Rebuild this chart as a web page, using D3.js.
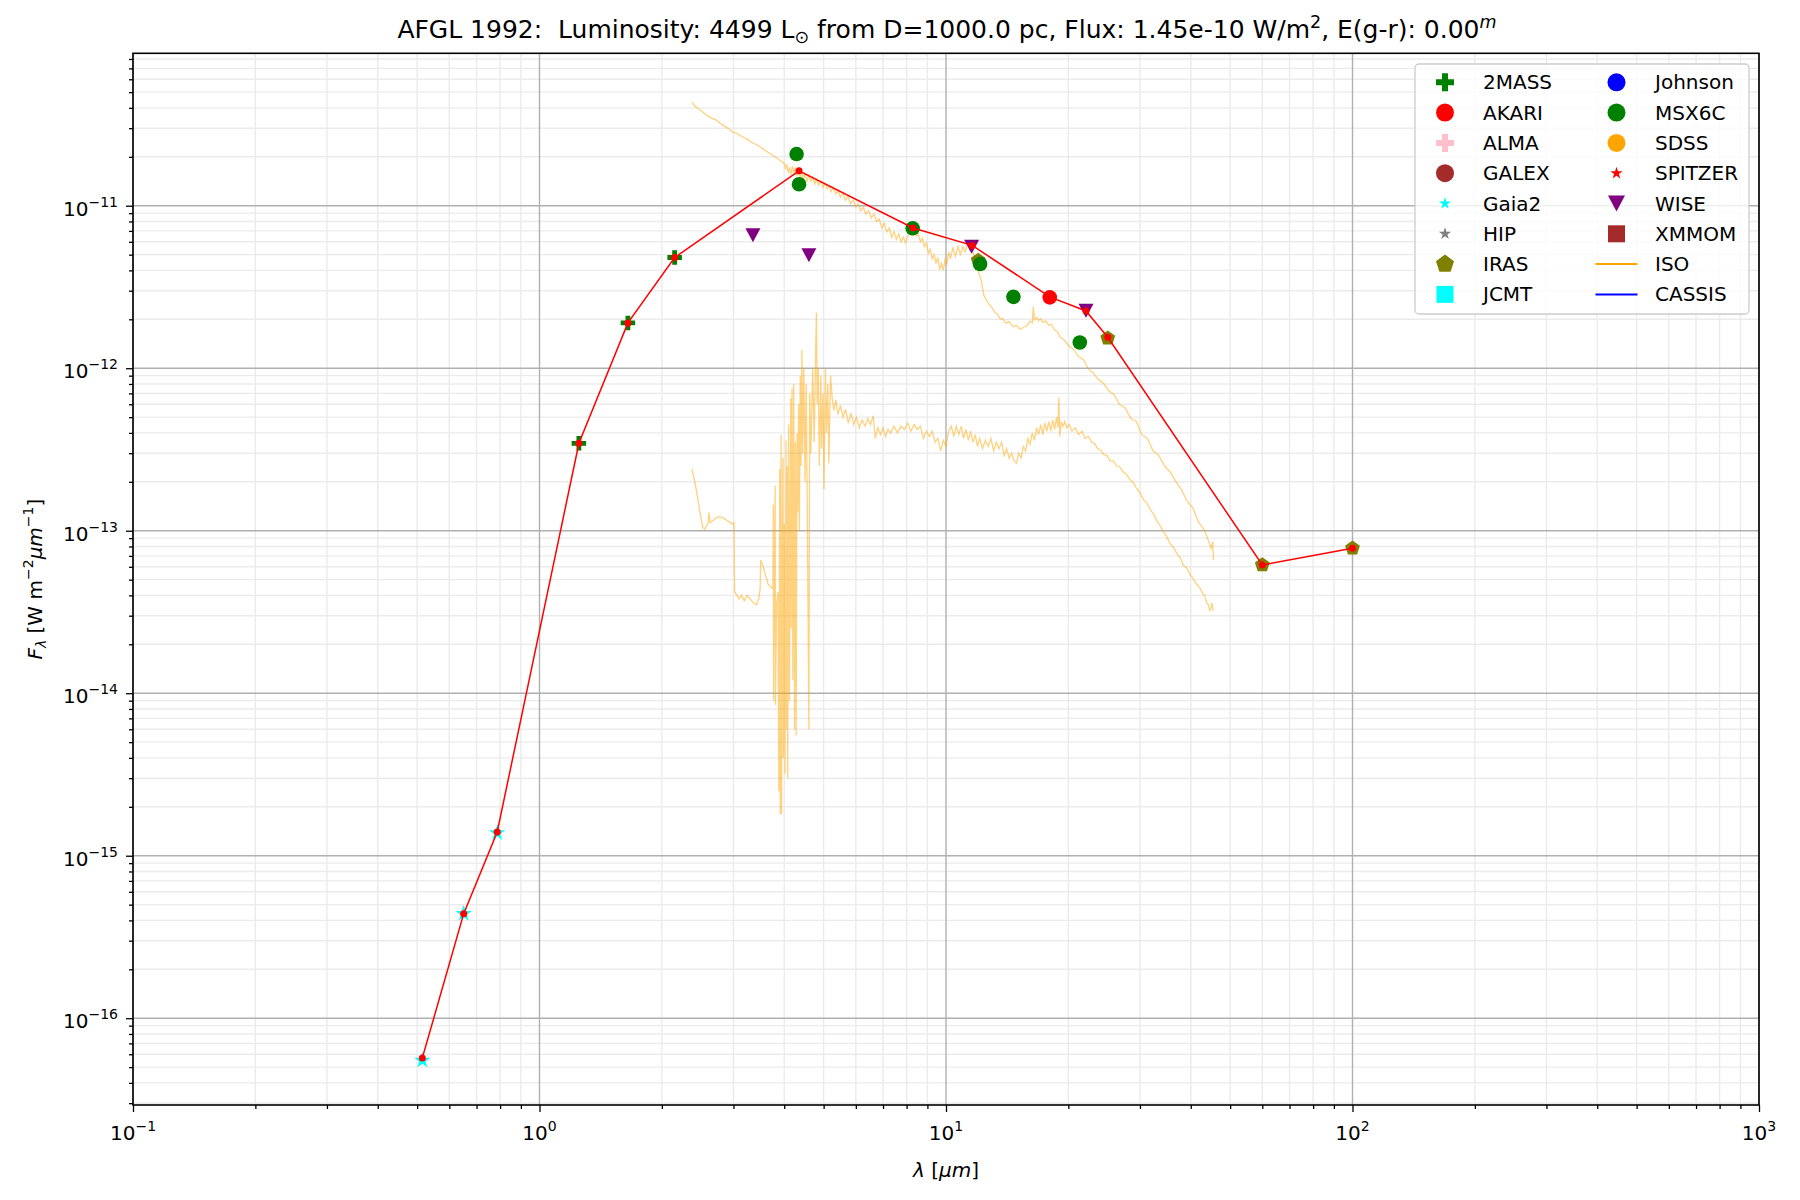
<!DOCTYPE html>
<html>
<head>
<meta charset="utf-8">
<script src="https://cdn.jsdelivr.net/npm/d3@7"></script>
<style>
  body { margin: 0; background: #fff; }
  text { font-family: "DejaVu Sans", sans-serif; fill: #000; }
</style>
</head>
<body>
<div class="chart"></div>
<script>
const width = 1800;
const height = 1200;
const margin = { top: 53.3, right: 41, bottom: 95, left: 133 };

// axis ticks
const xMajor = [0.1, 1, 10, 100, 1000];
const yMajor = [1e-16, 1e-15, 1e-14, 1e-13, 1e-12, 1e-11];
const yDomain = [Math.pow(10, -16.534), Math.pow(10, -10.062)];

// photometry (wavelength in micron, flux in W m-2 um-1)
const twomassWl = [1.25, 1.65, 2.15];
const twomassFlux = [3.45e-13, 1.9e-12, 4.8e-12];
const gaiaWl = [0.515, 0.651, 0.787];
const gaiaFlux = [5.5e-17, 4.4e-16, 1.38e-15];
const msxWl = [4.29, 4.35, 8.28, 12.13, 14.65, 21.34];
const msxFlux = [2.08e-11, 1.355e-11, 7.26e-12, 4.38e-12, 2.75e-12, 1.44e-12];
const wiseWl = [3.35, 4.6, 11.56, 22.1];
const wiseFlux = [6.58e-12, 4.96e-12, 5.6e-12, 2.26e-12];
const akariWl = [18.0];
const akariFlux = [2.73e-12];
const irasWl = [12, 25, 60, 100];
const irasFlux = [4.6e-12, 1.53e-12, 6.15e-14, 7.8e-14];

// combined SED (red line)
const sedWl = [0.515, 0.651, 0.787, 1.25, 1.65, 2.15, 4.35, 8.3, 11.6, 18.0, 22.1, 25.0, 60, 100];
const sedFlux = [5.7e-17, 4.4e-16, 1.4e-15, 3.45e-13, 1.9e-12, 4.8e-12, 1.64e-11, 7.3e-12, 5.7e-12, 2.75e-12, 2.25e-12, 1.55e-12, 6.15e-14, 7.8e-14];

// ISO spectra [wavelength, flux]
const isoUpper = [
  [2.37, 4.35e-11], [2.40, 4.15e-11], [2.44, 4.0e-11], [2.48, 3.9e-11], [2.53, 3.75e-11],
  [2.58, 3.6e-11], [2.63, 3.5e-11], [2.68, 3.42e-11], [2.73, 3.35e-11], [2.79, 3.2e-11],
  [2.85, 3.1e-11], [2.92, 2.97e-11], [2.98, 2.85e-11], [3.05, 2.8e-11], [3.12, 2.7e-11],
  [3.19, 2.62e-11], [3.26, 2.55e-11], [3.33, 2.45e-11], [3.41, 2.38e-11], [3.49, 2.3e-11],
  [3.57, 2.22e-11], [3.65, 2.13e-11], [3.73, 2.06e-11], [3.82, 1.98e-11], [3.91, 1.9e-11],
  [4.00, 1.82e-11], [4.03, 1.7e-11], [4.06, 1.78e-11], [4.09, 1.6e-11], [4.12, 1.72e-11],
  [4.15, 1.55e-11], [4.19, 1.75e-11], [4.22, 1.6e-11], [4.26, 1.7e-11], [4.30, 1.52e-11],
  [4.34, 1.65e-11], [4.38, 1.48e-11], [4.42, 1.62e-11], [4.46, 1.45e-11], [4.50, 1.6e-11],
  [4.55, 1.4e-11], [4.60, 1.55e-11], [4.65, 1.42e-11], [4.70, 1.5e-11], [4.75, 1.36e-11],
  [4.80, 1.46e-11], [4.86, 1.34e-11], [4.92, 1.42e-11], [4.98, 1.3e-11], [5.04, 1.38e-11],
  [5.10, 1.27e-11], [5.16, 1.33e-11], [5.22, 1.22e-11], [5.29, 1.3e-11], [5.36, 1.18e-11],
  [5.43, 1.24e-11], [5.50, 1.13e-11], [5.58, 1.19e-11], [5.66, 1.08e-11], [5.74, 1.14e-11],
  [5.82, 1.03e-11], [5.91, 1.08e-11], [6.0, 9.8e-12], [6.08, 1.03e-11], [6.17, 9.3e-12],
  [6.26, 9.8e-12], [6.35, 8.9e-12], [6.45, 9.3e-12], [6.55, 8.4e-12], [6.65, 8.9e-12],
  [6.75, 8.0e-12], [6.85, 8.3e-12], [6.95, 7.3e-12], [7.05, 7.8e-12], [7.15, 6.9e-12],
  [7.25, 7.3e-12], [7.35, 6.4e-12], [7.45, 6.9e-12], [7.55, 6.2e-12], [7.65, 6.7e-12],
  [7.75, 6.0e-12], [7.85, 6.4e-12], [7.95, 5.9e-12], [8.05, 6.5e-12], [8.15, 6.9e-12],
  [8.25, 6.6e-12], [8.35, 7.1e-12], [8.45, 6.5e-12], [8.55, 6.7e-12], [8.65, 6.0e-12],
  [8.75, 6.3e-12], [8.85, 5.6e-12], [8.95, 5.9e-12], [9.05, 5.1e-12], [9.15, 5.4e-12],
  [9.25, 4.7e-12], [9.35, 5.0e-12], [9.45, 4.4e-12], [9.55, 4.8e-12], [9.65, 4.1e-12],
  [9.75, 4.4e-12], [9.85, 4.0e-12], [9.95, 4.7e-12], [10.05, 4.4e-12], [10.15, 5.2e-12],
  [10.25, 4.7e-12], [10.4, 5.5e-12], [10.55, 4.9e-12], [10.7, 5.6e-12], [10.85, 5.0e-12],
  [11.0, 5.6e-12], [11.15, 5.2e-12], [11.3, 5.9e-12], [11.45, 5.3e-12], [11.6, 5.5e-12],
  [11.75, 4.7e-12], [11.9, 4.5e-12], [12.05, 3.8e-12], [12.2, 3.5e-12], [12.3, 3.1e-12],
  [12.4, 2.8e-12], [12.6, 2.6e-12], [12.8, 2.45e-12], [13.0, 2.35e-12], [13.2, 2.2e-12],
  [13.4, 2.15e-12], [13.6, 2.0e-12], [13.8, 2.02e-12], [14.0, 1.9e-12], [14.3, 1.93e-12],
  [14.6, 1.8e-12], [14.9, 1.84e-12], [15.2, 1.74e-12], [15.5, 1.78e-12], [15.8, 1.82e-12],
  [16.1, 1.95e-12], [16.3, 1.9e-12], [16.4, 2.4e-12], [16.5, 1.98e-12], [16.7, 2.05e-12],
  [16.9, 1.96e-12], [17.1, 2.02e-12], [17.3, 1.92e-12], [17.6, 1.95e-12], [17.9, 1.84e-12],
  [18.2, 1.86e-12], [18.5, 1.72e-12], [18.8, 1.68e-12], [19.1, 1.55e-12], [19.5, 1.5e-12],
  [20.0, 1.38e-12], [20.6, 1.3e-12], [21.2, 1.18e-12], [21.8, 1.13e-12], [22.4, 0.99e-12],
  [23.0, 9.4e-13], [23.7, 8.5e-13], [24.4, 8.1e-13], [25.1, 7.3e-13], [25.9, 6.9e-13],
  [26.7, 6.0e-13], [27.6, 5.7e-13], [28.5, 4.9e-13], [29.4, 4.7e-13], [30.3, 3.9e-13],
  [31.3, 3.7e-13], [32.3, 3.1e-13], [33.4, 2.9e-13], [34.5, 2.5e-13], [35.6, 2.3e-13],
  [36.8, 2.0e-13], [38.0, 1.78e-13], [39.2, 1.52e-13], [40.5, 1.38e-13], [41.8, 1.13e-13],
  [43.1, 1.02e-13], [44.3, 8.6e-14], [44.9, 7.8e-14], [45.3, 8.6e-14], [45.5, 6.6e-14]
];

const isoLower = [
  [2.37, 2.4e-13], [2.42, 1.9e-13], [2.47, 1.4e-13], [2.52, 1.05e-13], [2.55, 1.02e-13],
  [2.60, 1.12e-13], [2.61, 1.3e-13], [2.63, 1.12e-13], [2.67, 1.15e-13], [2.72, 1.2e-13],
  [2.77, 1.22e-13], [2.83, 1.2e-13], [2.90, 1.15e-13], [2.98, 1.1e-13], [3.01, 1.12e-13],
  [3.02, 4.2e-14], [3.06, 4.0e-14], [3.10, 3.8e-14], [3.14, 4.0e-14], [3.19, 3.7e-14],
  [3.24, 4.0e-14], [3.30, 3.8e-14], [3.36, 3.6e-14], [3.42, 3.5e-14], [3.47, 3.9e-14],
  [3.49, 4.4e-14], [3.50, 6.6e-14], [3.55, 6.0e-14], [3.60, 5.3e-14], [3.65, 4.7e-14],
  [3.70, 4.5e-14], [3.75, 4.4e-14], [3.76, 1.45e-13], [3.765, 9e-15], [3.78, 4e-14],
  [3.80, 1.9e-13], [3.805, 8.5e-15], [3.83, 3.5e-14], [3.86, 4.2e-14], [3.88, 2.5e-15],
  [3.90, 2.4e-13], [3.91, 1.8e-15], [3.93, 3.9e-13], [3.94, 1.8e-15], [3.97, 2.8e-13],
  [3.98, 4e-15], [4.00, 1.1e-13], [4.02, 3.2e-15], [4.04, 3.6e-13], [4.05, 6e-15],
  [4.07, 2.5e-13], [4.08, 3e-15], [4.10, 4.5e-13], [4.12, 9e-15], [4.15, 6.5e-13],
  [4.16, 2.5e-14], [4.18, 7.5e-13], [4.20, 1.2e-14], [4.22, 8e-13], [4.24, 6e-15],
  [4.26, 3.5e-13], [4.28, 5.5e-15], [4.30, 4e-13], [4.32, 1.3e-13], [4.34, 6e-13],
  [4.36, 1.0e-13], [4.38, 9e-13], [4.40, 2.5e-13], [4.42, 1.3e-12], [4.44, 3e-13],
  [4.47, 1.0e-12], [4.50, 2.0e-13], [4.53, 8e-13], [4.56, 1.2e-13], [4.60, 6e-15],
  [4.62, 7e-13], [4.65, 3e-13], [4.70, 1.0e-12], [4.74, 3.5e-13], [4.78, 1.3e-12],
  [4.80, 2.2e-12], [4.82, 6e-13], [4.85, 1.0e-12], [4.88, 2.5e-13], [4.92, 9e-13],
  [4.94, 3.2e-13], [4.98, 7e-13], [5.01, 1.8e-13], [5.05, 1.0e-12], [5.08, 4e-13],
  [5.12, 8e-13], [5.15, 2.6e-13], [5.20, 9e-13], [5.25, 6.5e-13], [5.30, 5.5e-13],
  [5.36, 6.4e-13], [5.42, 5.2e-13], [5.5, 5.9e-13], [5.58, 5.0e-13], [5.66, 5.6e-13],
  [5.75, 4.6e-13], [5.84, 5.3e-13], [5.93, 4.5e-13], [6.02, 5.0e-13], [6.12, 4.3e-13],
  [6.22, 4.8e-13], [6.32, 4.4e-13], [6.42, 4.9e-13], [6.52, 4.5e-13], [6.62, 5.1e-13],
  [6.7, 3.7e-13], [6.8, 4.3e-13], [6.9, 3.9e-13], [7.0, 4.3e-13], [7.1, 3.8e-13],
  [7.2, 4.2e-13], [7.3, 4.0e-13], [7.45, 4.4e-13], [7.6, 4.0e-13], [7.75, 4.4e-13],
  [7.9, 4.2e-13], [8.05, 4.6e-13], [8.2, 4.1e-13], [8.35, 4.5e-13], [8.5, 4.2e-13],
  [8.65, 4.4e-13], [8.8, 3.7e-13], [8.95, 4.1e-13], [9.1, 3.8e-13], [9.25, 4.1e-13],
  [9.4, 3.5e-13], [9.55, 3.7e-13], [9.7, 3.1e-13], [9.85, 3.6e-13], [10.0, 3.3e-13],
  [10.15, 4.1e-13], [10.3, 4.4e-13], [10.45, 3.8e-13], [10.6, 4.4e-13], [10.75, 3.9e-13],
  [10.9, 4.4e-13], [11.05, 3.7e-13], [11.2, 4.2e-13], [11.35, 3.6e-13], [11.5, 4.1e-13],
  [11.65, 3.5e-13], [11.8, 3.9e-13], [11.95, 3.3e-13], [12.1, 3.7e-13], [12.3, 3.2e-13],
  [12.5, 3.6e-13], [12.7, 3.3e-13], [12.9, 3.7e-13], [13.1, 3.1e-13], [13.3, 3.5e-13],
  [13.5, 3.2e-13], [13.7, 3.5e-13], [13.9, 2.9e-13], [14.1, 3.2e-13], [14.3, 2.8e-13],
  [14.5, 3.0e-13], [14.7, 2.7e-13], [14.9, 2.6e-13], [15.1, 3.0e-13], [15.3, 2.8e-13],
  [15.5, 3.3e-13], [15.7, 3.1e-13], [15.9, 3.7e-13], [16.1, 3.4e-13], [16.3, 4.0e-13],
  [16.5, 3.6e-13], [16.7, 4.3e-13], [16.9, 3.9e-13], [17.1, 4.5e-13], [17.3, 3.9e-13],
  [17.5, 4.6e-13], [17.7, 4.1e-13], [17.9, 4.7e-13], [18.1, 4.1e-13], [18.3, 4.8e-13],
  [18.5, 4.2e-13], [18.7, 5.0e-13], [18.85, 4.3e-13], [18.95, 6.6e-13], [19.05, 3.8e-13],
  [19.2, 4.7e-13], [19.4, 4.4e-13], [19.6, 4.7e-13], [19.8, 4.3e-13], [20.1, 4.5e-13],
  [20.4, 4.1e-13], [20.8, 4.3e-13], [21.2, 3.9e-13], [21.6, 4.1e-13], [22.0, 3.7e-13],
  [22.4, 3.8e-13], [22.8, 3.5e-13], [23.2, 3.45e-13], [23.6, 3.2e-13], [24.0, 3.15e-13],
  [24.4, 2.95e-13], [24.9, 2.9e-13], [25.3, 2.7e-13], [25.8, 2.68e-13], [26.3, 2.5e-13],
  [26.8, 2.45e-13], [27.3, 2.3e-13], [27.8, 2.22e-13], [28.4, 2.05e-13], [28.9, 1.98e-13],
  [29.5, 1.8e-13], [30.0, 1.72e-13], [30.6, 1.55e-13], [31.2, 1.48e-13], [31.8, 1.35e-13],
  [32.4, 1.27e-13], [33.0, 1.15e-13], [33.6, 1.08e-13], [34.3, 9.8e-14], [34.9, 9.2e-14],
  [35.6, 8.3e-14], [36.3, 7.9e-14], [37.0, 7.2e-14], [37.7, 6.8e-14], [38.4, 6.1e-14],
  [39.1, 5.9e-14], [39.8, 5.4e-14], [40.5, 5.1e-14], [41.3, 4.7e-14], [42.0, 4.5e-14],
  [42.8, 4.1e-14], [43.3, 4.0e-14], [43.8, 3.6e-14], [44.2, 3.5e-14], [44.6, 3.2e-14],
  [45.1, 3.6e-14], [45.4, 3.2e-14]
];

// legend
const legendLeft = ['2MASS', 'AKARI', 'ALMA', 'GALEX', 'Gaia2', 'HIP', 'IRAS', 'JCMT'];
const legendRight = ['Johnson', 'MSX6C', 'SDSS', 'SPITZER', 'WISE', 'XMMOM', 'ISO', 'CASSIS'];

// marker shapes
function plusPath(s, t) {
  const a = s / 2, b = t / 2;
  return `M${-b},${-a}H${b}V${-b}H${a}V${b}H${b}V${a}H${-b}V${b}H${-a}V${-b}H${-b}Z`;
}
function starPath(r) {
  const pts = [];
  for (let i = 0; i < 10; i++) {
    const rr = i % 2 === 0 ? r : r * 0.382;
    const ang = -Math.PI / 2 + i * Math.PI / 5;
    pts.push([rr * Math.cos(ang), rr * Math.sin(ang)]);
  }
  return 'M' + pts.map(p => p.join(',')).join('L') + 'Z';
}
function pentagonPath(r) {
  const pts = [];
  for (let i = 0; i < 5; i++) {
    const ang = -Math.PI / 2 + i * 2 * Math.PI / 5;
    pts.push([r * Math.cos(ang), r * Math.sin(ang)]);
  }
  return 'M' + pts.map(p => p.join(',')).join('L') + 'Z';
}
function triDownPath(w, h) {
  return `M${-w / 2},${-h / 2}L${w / 2},${-h / 2}L0,${h / 2}Z`;
}
function circlePath(r) {
  return `M${r},0A${r},${r} 0 1,1 ${-r},0A${r},${r} 0 1,1 ${r},0Z`;
}
function squarePath(s) {
  return `M${-s / 2},${-s / 2}h${s}v${s}h${-s}Z`;
}

const svg = d3.select('.chart').append('svg')
  .attr('width', width)
  .attr('height', height)
  .style('background', '#fff');

const xScale = d3.scaleLog()
  .domain([0.1, 1000])
  .range([margin.left, width - margin.right]);

const yScale = d3.scaleLog()
  .domain(yDomain)
  .range([height - margin.bottom, margin.top]);

const x0 = margin.left, x1 = width - margin.right;
const y0 = height - margin.bottom, y1 = margin.top;

// minor tick values
const xMinor = [];
for (let e = -1; e < 3; e++) for (let k = 2; k <= 9; k++) xMinor.push(k * Math.pow(10, e));
const yMinor = [];
for (let e = -17; e < -10; e++) for (let k = 2; k <= 9; k++) {
  const v = k * Math.pow(10, e);
  if (v > yDomain[0] && v < yDomain[1]) yMinor.push(v);
}

// grid
const grid = svg.append('g').attr('class', 'grid');
grid.selectAll('.xminor').data(xMinor).join('line')
  .attr('x1', d => xScale(d)).attr('x2', d => xScale(d))
  .attr('y1', y0).attr('y2', y1)
  .attr('stroke', '#ebebeb').attr('stroke-width', 1.4);
grid.selectAll('.yminor').data(yMinor).join('line')
  .attr('class', 'yminor')
  .attr('x1', x0).attr('x2', x1)
  .attr('y1', d => yScale(d)).attr('y2', d => yScale(d))
  .attr('stroke', '#ebebeb').attr('stroke-width', 1.4);
grid.selectAll('.xmajor').data(xMajor).join('line')
  .attr('class', 'xmajor')
  .attr('x1', d => xScale(d)).attr('x2', d => xScale(d))
  .attr('y1', y0).attr('y2', y1)
  .attr('stroke', '#b0b0b0').attr('stroke-width', 1.4);
grid.selectAll('.ymajor').data(yMajor).join('line')
  .attr('class', 'ymajor')
  .attr('x1', x0).attr('x2', x1)
  .attr('y1', d => yScale(d)).attr('y2', d => yScale(d))
  .attr('stroke', '#b0b0b0').attr('stroke-width', 1.4);

// ISO spectra
const specLine = d3.line()
  .x(d => xScale(d[0]))
  .y(d => yScale(d[1]));

const plot = svg.append('g');
[isoUpper, isoLower].forEach(spec => {
  plot.append('path')
    .attr('d', specLine(spec))
    .attr('fill', 'none')
    .attr('stroke', '#ffa500')
    .attr('stroke-opacity', 0.5)
    .attr('stroke-width', 1.3);
});

function drawMarkers(wl, flux, path, color) {
  plot.append('g').selectAll('path')
    .data(wl.map((w, i) => [w, flux[i]]))
    .join('path')
    .attr('transform', d => `translate(${xScale(d[0])},${yScale(d[1])})`)
    .attr('d', path)
    .attr('fill', color);
}

drawMarkers(irasWl, irasFlux, pentagonPath(7.8), '#808000');
drawMarkers(twomassWl, twomassFlux, plusPath(14.5, 4.8), '#008000');
drawMarkers(msxWl, msxFlux, circlePath(7.3), '#008000');
drawMarkers(wiseWl, wiseFlux, triDownPath(15, 14), '#800080');
drawMarkers(akariWl, akariFlux, circlePath(7.3), '#ff0000');
drawMarkers(gaiaWl, gaiaFlux, starPath(8.6), '#00ffff');

// SED line
const sed = sedWl.map((w, i) => [w, sedFlux[i]]);
plot.append('path')
  .attr('d', specLine(sed))
  .attr('fill', 'none')
  .attr('stroke', '#ff0000')
  .attr('stroke-width', 1.5);
plot.append('g').selectAll('circle')
  .data(sed)
  .join('circle')
  .attr('cx', d => xScale(d[0]))
  .attr('cy', d => yScale(d[1]))
  .attr('r', 3.5)
  .attr('fill', '#ff0000');

// axes ticks
const axes = svg.append('g');
axes.append('g')
  .attr('transform', `translate(0,${y0})`)
  .call(d3.axisBottom(xScale).tickValues(xMinor).tickSize(4).tickFormat(''))
  .call(g => g.select('.domain').remove());
axes.append('g')
  .attr('transform', `translate(0,${y0})`)
  .call(d3.axisBottom(xScale).tickValues(xMajor).tickSize(7).tickFormat(''))
  .call(g => g.select('.domain').remove());
axes.append('g')
  .attr('transform', `translate(${x0},0)`)
  .call(d3.axisLeft(yScale).tickValues(yMinor).tickSize(4).tickFormat(''))
  .call(g => g.select('.domain').remove());
axes.append('g')
  .attr('transform', `translate(${x0},0)`)
  .call(d3.axisLeft(yScale).tickValues(yMajor).tickSize(7).tickFormat(''))
  .call(g => g.select('.domain').remove());
axes.selectAll('.tick line').attr('stroke', '#000').attr('stroke-width', 1.3);

// spines
axes.append('rect')
  .attr('x', x0).attr('y', y1)
  .attr('width', x1 - x0).attr('height', y0 - y1)
  .attr('fill', 'none')
  .attr('stroke', '#000')
  .attr('stroke-width', 1.6);

function powLabel(sel, v) {
  const e = Math.round(Math.log10(v));
  sel.append('tspan').text('10');
  sel.append('tspan')
    .attr('dy', -9)
    .attr('font-size', 14)
    .text(e < 0 ? '\u2212' + (-e) : String(e));
}

svg.append('g').selectAll('text')
  .data(xMajor)
  .join('text')
  .attr('x', d => xScale(d))
  .attr('y', 1140)
  .attr('text-anchor', 'middle')
  .attr('font-size', 20)
  .each(function (d) { powLabel(d3.select(this), d); });

svg.append('g').selectAll('text')
  .data(yMajor)
  .join('text')
  .attr('x', 118)
  .attr('y', d => yScale(d) + 10)
  .attr('text-anchor', 'end')
  .attr('font-size', 20)
  .each(function (d) { powLabel(d3.select(this), d); });

// axis labels
const xLab = svg.append('text')
  .attr('x', (x0 + x1) / 2)
  .attr('y', 1177)
  .attr('text-anchor', 'middle')
  .attr('font-size', 20);
xLab.append('tspan').attr('font-style', 'italic').text('\u03bb');
xLab.append('tspan').text(' [');
xLab.append('tspan').attr('font-style', 'italic').text('\u03bcm');
xLab.append('tspan').text(']');

const yLab = svg.append('text')
  .attr('transform', `translate(42,${(y0 + y1) / 2}) rotate(-90)`)
  .attr('text-anchor', 'middle')
  .attr('font-size', 20);
yLab.append('tspan').attr('font-style', 'italic').text('F');
yLab.append('tspan').attr('font-style', 'italic').attr('font-size', 14).attr('dy', 4).text('\u03bb');
yLab.append('tspan').attr('dy', -4).text(' [W m');
yLab.append('tspan').attr('font-size', 14).attr('dy', -9).text('\u22122');
yLab.append('tspan').attr('font-style', 'italic').attr('dy', 9).text('\u03bcm');
yLab.append('tspan').attr('font-size', 14).attr('dy', -9).text('\u22121');
yLab.append('tspan').attr('dy', 9).text(']');

// title
const title = svg.append('text')
  .attr('x', (x0 + x1) / 2 + 1)
  .attr('y', 38)
  .attr('text-anchor', 'middle')
  .attr('font-size', 25)
  .style('white-space', 'pre');
title.append('tspan').text('AFGL 1992:  Luminosity: 4499 L');
title.append('tspan').attr('font-size', 17.5).attr('dy', 5).text('\u2299');
title.append('tspan').attr('dy', -5).text(' from D=1000.0 pc, Flux: 1.45e-10 W/m');
title.append('tspan').attr('font-size', 17.5).attr('dy', -10).text('2');
title.append('tspan').attr('dy', 10).text(', E(g-r): 0.00');
title.append('tspan').attr('font-size', 17.5).attr('dy', -10).attr('font-style', 'italic').text('m');

// legend
const legendShapes = {
  '2MASS': { d: plusPath(18, 6), c: '#008000' },
  'AKARI': { d: circlePath(9), c: '#ff0000' },
  'ALMA': { d: plusPath(18, 6), c: '#ffc0cb' },
  'GALEX': { d: circlePath(9), c: '#a52a2a' },
  'Gaia2': { d: starPath(6.5), c: '#00ffff' },
  'HIP': { d: starPath(6.5), c: '#808080' },
  'IRAS': { d: pentagonPath(9.5), c: '#808000' },
  'JCMT': { d: squarePath(17), c: '#00ffff' },
  'Johnson': { d: circlePath(9), c: '#0000ff' },
  'MSX6C': { d: circlePath(9), c: '#008000' },
  'SDSS': { d: circlePath(9), c: '#ffa500' },
  'SPITZER': { d: starPath(6.5), c: '#ff0000' },
  'WISE': { d: triDownPath(17, 16), c: '#800080' },
  'XMMOM': { d: squarePath(17), c: '#a52a2a' },
  'ISO': { line: '#ffa500' },
  'CASSIS': { line: '#0000ff' }
};

const legend = svg.append('g');
legend.append('rect')
  .attr('x', 1415).attr('y', 64)
  .attr('width', 334).attr('height', 250)
  .attr('rx', 4)
  .attr('fill', '#fff')
  .attr('fill-opacity', 0.8)
  .attr('stroke', '#cccccc')
  .attr('stroke-width', 1.3);

const rowY = i => 82.3 + i * 30.3;
[[legendLeft, 1445, 1483], [legendRight, 1616.5, 1655]].forEach(([labels, mx, tx]) => {
  labels.forEach((lab, i) => {
    const s = legendShapes[lab];
    if (s.line) {
      legend.append('line')
        .attr('x1', mx - 21).attr('x2', mx + 21)
        .attr('y1', rowY(i)).attr('y2', rowY(i))
        .attr('stroke', s.line).attr('stroke-width', 2);
    } else {
      legend.append('path')
        .attr('transform', `translate(${mx},${rowY(i)})`)
        .attr('d', s.d)
        .attr('fill', s.c);
    }
    legend.append('text')
      .attr('x', tx).attr('y', rowY(i) + 7)
      .attr('font-size', 20)
      .text(lab);
  });
});
</script>
</body>
</html>
